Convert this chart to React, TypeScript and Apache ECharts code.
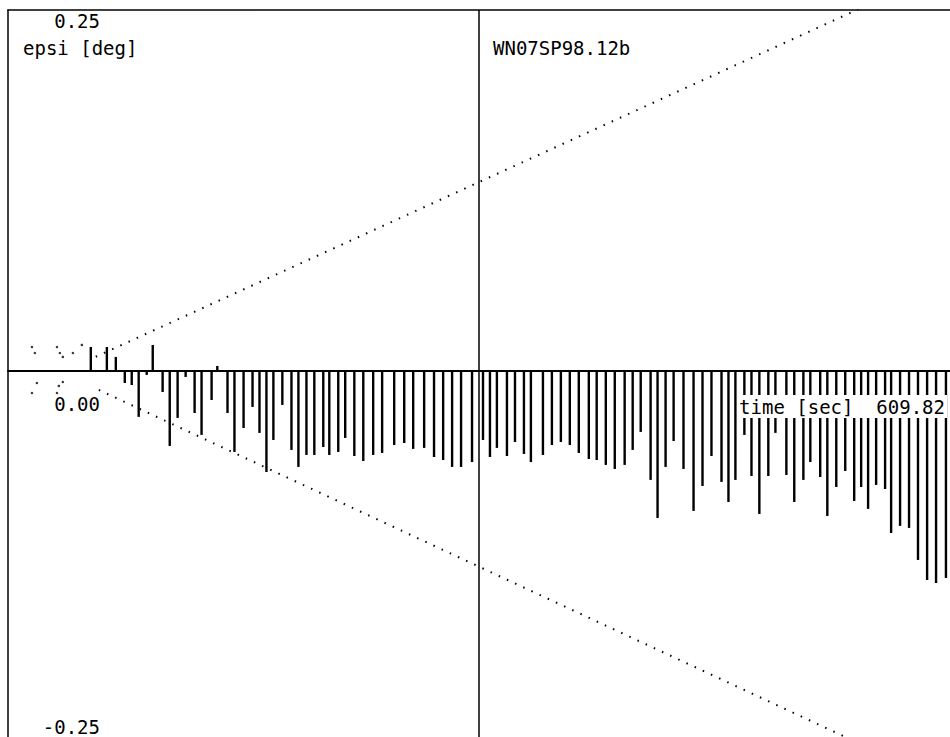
import React, { useEffect, useRef } from "react";
import * as echarts from "echarts";

// ---- data ----
const T_MAX = 609.82;
const MID_T = T_MAX / 2;
const X_NAME = "time [sec]";
const Y_NAME = "epsi [deg]";
const RUN_ID = "WN07SP98.12b";
const Y_TICK_VALUES = [0.25, 0, -0.25];
const Y_TICK_LABELS = ["0.25", "0.00", "-0.25"];

const spikeTimes = [
  53.6, 64.0, 69.8, 75.6, 80.1, 84.6, 89.8, 93.7, 100.1, 104.7, 109.8, 115.0, 120.8, 125.3, 131.8, 135.5,
  142.1, 146.6, 152.5, 158.3, 162.8, 167.3, 171.8, 177.6, 183.5, 188.0, 193.2, 198.3, 204.1, 208.0, 213.8,
  218.3, 224.2, 230.0, 236.4, 242.2, 250.0, 256.5, 262.3, 269.4, 275.8, 281.7, 287.5, 293.3, 300.4, 307.5,
  312.0, 316.5, 323.0, 328.2, 334.0, 338.5, 346.3, 352.1, 357.9, 363.7, 369.5, 376.0, 381.1, 387.0, 392.8,
  399.2, 404.4, 409.6, 416.0, 420.5, 425.7, 430.9, 437.3, 443.8, 449.6, 455.4, 461.9, 466.4, 470.9, 476.7,
  481.3, 486.4, 492.2, 496.8, 503.9, 509.0, 514.9, 519.4, 525.8, 530.4, 536.2, 542.0, 547.8, 552.3, 556.8,
  562.0, 567.8, 571.7, 577.5, 583.3, 589.1, 595.0, 600.8, 607.2,
];
const spikeValues = [
  0.0163, 0.0163, 0.0094, -0.0087, -0.0101, -0.0322, -0.0031, 0.0177, -0.0149, -0.0524, -0.0329, -0.0045,
  -0.0295, -0.0447, -0.0205, 0.0031, -0.0295, -0.0565, -0.0399, -0.0253, -0.0433, -0.0704, -0.0482, -0.0239,
  -0.0551, -0.0669, -0.0586, -0.0586, -0.0531, -0.0586, -0.0565, -0.0468, -0.0593, -0.0628, -0.0586, -0.0572,
  -0.0517, -0.0503, -0.0544, -0.0537, -0.06, -0.0621, -0.0669, -0.0669, -0.0635, -0.0482, -0.06, -0.0537,
  -0.0593, -0.0496, -0.0579, -0.0635, -0.0586, -0.0517, -0.0496, -0.0517, -0.0572, -0.0614, -0.0621, -0.0655,
  -0.0683, -0.0655, -0.0551, -0.0426, -0.0759, -0.1023, -0.0669, -0.0489, -0.0683, -0.0974, -0.0801, -0.0593,
  -0.0773, -0.0912, -0.0759, -0.0447, -0.0732, -0.0995, -0.0732, -0.0433, -0.0725, -0.0912, -0.0759, -0.0635,
  -0.0739, -0.1009, -0.0808, -0.0697, -0.0905, -0.0808, -0.096, -0.0794, -0.0822, -0.1127, -0.1078, -0.1092,
  -0.1314, -0.1453, -0.1474, -0.1439,
];

// envelope (dotted) end points
const upperEnvT = [56.8, 550.4];
const upperEnvV = [0.0095, 0.2505];
const lowerEnvT = [58.8, 540.7];
const lowerEnvV = [-0.0135, -0.2535];

// scattered dots at the start
const dotTimes = [15.5, 17.4, 31.7, 33.6, 35.5, 42.0, 47.8, 18.7, 15.5, 35.5, 32.9, 31.7];
const dotValues = [0.0163, 0.0121, 0.0163, 0.0121, 0.0094, 0.0121, 0.0177, -0.0087, -0.0156, -0.008, -0.0107, -0.0156];

const FONT = "DejaVu Sans Mono";

export default function App() {
  const ref = useRef<HTMLDivElement>(null);
  useEffect(() => {
    if (!ref.current) return;
    const chart = echarts.init(ref.current, null, { renderer: "svg" });
    const zip = (a: number[], b: number[]) => a.map((v, i) => [v, b[i]]);
    const labelStyle = { fontFamily: FONT, fontSize: 19, color: "#000" };
    const option: any = {
      animation: false,
      backgroundColor: "#fff",
      grid: { left: 8, top: 10, width: 944, height: 727, containLabel: false },
      xAxis: [
        {
          type: "value", min: 0, max: T_MAX, position: "bottom",
          axisLine: { show: true, onZero: true, lineStyle: { color: "#000", width: 2 } },
          axisTick: { show: false }, axisLabel: { show: false }, splitLine: { show: false },
        },
        {
          type: "value", min: 0, max: T_MAX, position: "top",
          axisLine: { show: true, onZero: false, lineStyle: { color: "#000", width: 1.5 } },
          axisTick: { show: false }, axisLabel: { show: false }, splitLine: { show: false },
        },
      ],
      yAxis: {
        type: "value", min: -0.2542, max: 0.25,
        axisLine: { show: true, onZero: false, lineStyle: { color: "#000", width: 1.5 } },
        axisTick: { show: false }, splitLine: { show: false },
        axisLabel: {
          inside: true, align: "right", margin: 92,
          customValues: Y_TICK_VALUES,
          formatter: (v: number) => {
            const i = Y_TICK_VALUES.findIndex((t) => Math.abs(t - v) < 1e-9);
            const key = ["t", "m", "b"][i];
            return `{${key}|${Y_TICK_LABELS[i]}}`;
          },
          rich: {
            t: { ...labelStyle, padding: [22, 0, 0, 0] },
            m: { ...labelStyle, padding: [67, 0, 0, 0] },
            b: { ...labelStyle, padding: [0, 0, 8, 0] },
          },
        },
      },
      series: [
        {
          type: "bar", data: zip(spikeTimes, spikeValues), barWidth: 2.4,
          itemStyle: { color: "#000", borderColor: "#000", borderWidth: 0 },
          z: 3,
          markLine: {
            silent: true, symbol: "none", label: { show: false },
            lineStyle: { color: "#000", width: 1.5, type: "solid" },
            data: [{ xAxis: MID_T }],
          },
        },
        {
          type: "line", data: zip(upperEnvT, upperEnvV), symbol: "none",
          lineStyle: { color: "#000", width: 2, type: [1.5, 7.5] },
        },
        {
          type: "line", data: zip(lowerEnvT, lowerEnvV), symbol: "none",
          lineStyle: { color: "#000", width: 2, type: [1.5, 7.5] },
        },
        {
          type: "scatter", data: zip(dotTimes, dotValues), symbolSize: 2.5,
          itemStyle: { color: "#000" },
        },
      ],
      graphic: [
        { type: "text", z: 100, left: 23, top: 38, style: { text: Y_NAME, font: `19px "${FONT}"`, fill: "#000" } },
        { type: "text", z: 100, left: 493, top: 38, style: { text: RUN_ID, font: `19px "${FONT}"`, fill: "#000" } },
        {
          type: "text", z: 100, right: 3, top: 395,
          style: {
            text: `${X_NAME}  ${T_MAX.toFixed(2)}`, font: `19px "${FONT}"`, fill: "#000",
            backgroundColor: "#fff", padding: [2, 2, 2, 2],
          },
        },
      ],
    };
    chart.setOption(option);
    return () => chart.dispose();
  }, []);
  return (
    <div
      ref={ref}
      style={{ position: "absolute", left: 0, top: 0, width: 950, height: 737, background: "#fff" }}
    />
  );
}
